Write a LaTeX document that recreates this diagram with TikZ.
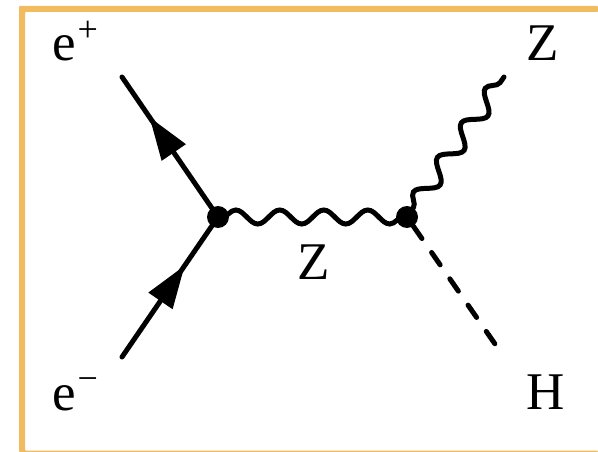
\documentclass[tikz,border=0pt]{standalone}
\usepackage{fontspec}
\setmainfont{Liberation Serif}
\usetikzlibrary{arrows.meta,decorations.pathmorphing,decorations.markings}
\definecolor{framecol}{HTML}{F2BB60}
\newcommand{\upmark}[1]{\hspace{2pt}\raisebox{19.5pt}{\fontsize{36}{36}\selectfont #1}}

\begin{document}
\begin{tikzpicture}[x=1pt,y=-1pt,font=\fontsize{53}{60}\selectfont]
\tikzset{
  lab/.style={inner sep=0pt,anchor=base west},
  vtx/.style={circle,fill=black,inner sep=0pt,minimum size=22pt},
  fermion/.style={line width=5pt,line cap=round,postaction={decorate}},
  boson/.style={line width=5pt,line cap=round,decorate,decoration={snake,segment length=44pt,amplitude=7pt,pre length=4pt,post length=0pt}},
  bosonz/.style={line width=5pt,line cap=round,decorate,decoration={snake,segment length=42pt,amplitude=9pt,post length=0pt}},
  scalar/.style={line width=5pt,line cap=round,dash pattern=on 15pt off 17pt},
  tipat/.style={decoration={markings,mark=at position #1 with {\arrow{Triangle[length=43pt,width=28pt]}}}}
}
\useasboundingbox (0,0) rectangle (598,452);

% Frame
\fill[fill=white] (0,0) rectangle (598,452);
\fill[rounded corners=1pt,fill=framecol] (19,452) -- (19,6) -- (598,6) -- (598,12) -- (25,12) -- (25,450.5) -- (598,450.5) -- (598,452) -- cycle;

% Vertices and free ends
\node[vtx] (v1) at (218,217) {};
\node[vtx] (v2) at (407,217) {};
\coordinate (ep) at (122,77);
\coordinate (em) at (122,357);
\coordinate (zf) at (504,77);
\coordinate (hf) at (495,344);

% Incoming pair
\draw[fermion,tipat=110pt] (v1) -- (ep);
\draw[fermion,tipat=111pt] (em) -- (v1);

% Propagator and outgoing pair
\draw[boson] (v1.center) -- (v2.center);
\draw[bosonz] (v2) -- (zf);
\draw[scalar] (v2) -- (hf);

% Labels
\node[lab] (lep) at (52,61) {e\upmark{+}};
\node[lab] (lem) at (52,410) {e\upmark{−}};
\node[lab] (lzf) at (526,61) {Z};
\node[lab] (lzp) at (297,279) {Z};
\node[lab] (lh) at (526,409) {H};
\end{tikzpicture}
\end{document}
